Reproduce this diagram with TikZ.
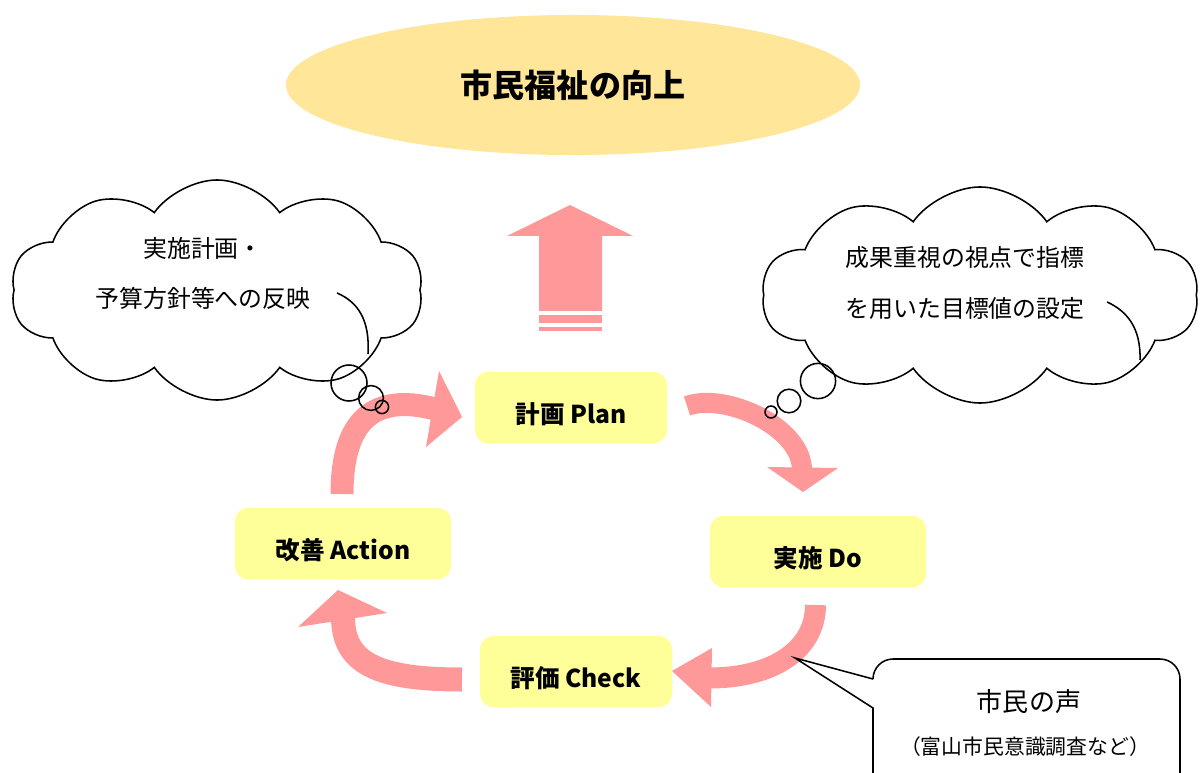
\documentclass[tikz,border=0pt]{standalone}
\usepackage{fontspec}
\setmainfont{Noto Sans CJK JP}
\usetikzlibrary{shapes.geometric,shapes.symbols}
\definecolor{pdcapink}{HTML}{FF9999}
\definecolor{pdcayellow}{HTML}{FFFF99}
\definecolor{goalyellow}{HTML}{FFE699}

\tikzstyle{phase} = [fill=pdcayellow, rounded corners=0.33cm, minimum height=1.775cm, inner sep=0pt, text height=24pt, text depth=1.5pt, font=\bfseries\fontsize{17.5pt}{20pt}\selectfont]
\tikzstyle{thought} = [cloud, draw, line width=1.1pt, cloud puffs=10, cloud puff arc=110]
\tikzstyle{thought line} = [draw, line width=1.1pt]
\tikzstyle{bubble} = [circle, draw, line width=1.1pt, inner sep=0pt]
\tikzstyle{cycle arrow} = [draw=pdcapink, line width=0.55cm]
\tikzstyle{cycle head} = [fill=pdcapink]
\tikzstyle{note} = [align=center, font=\fontsize{17pt}{35.6pt}\selectfont]

\begin{document}
\begin{tikzpicture}[x=0.025cm, y=-0.025cm]
       \clip (0,0) rectangle (1202,773);
       % goal
       \node[ellipse, fill=goalyellow, minimum width=14.35cm, minimum height=3.5cm, font=\bfseries\fontsize{22.8pt}{26pt}\selectfont] (goal) at (573,85) {市民福祉の向上};
       \fill[pdcapink] (570,205) -- (633,236) -- (602,236) -- (602,311) -- (539,311) -- (539,236) -- (507,236) -- cycle;
       \fill[pdcapink] (539,315) rectangle (602,323);
       \fill[pdcapink] (539,327) rectangle (602,331);
       % PDCA boxes
       \foreach \pos/\name/\boxw/\txt in {{(571,407.5)/plan/4.8cm/計画 Plan}, {(818,551.5)/do/5.4cm/実施 Do}, {(576,671.5)/check/4.8cm/評価 Check}, {(343,543.5)/act/5.4cm/改善 Action}} {
           \node[phase, minimum width=\boxw] (\name) at \pos {\txt};
       }
       % cycle arrows
       \coordinate (act-out) at (342,494);   \coordinate (plan-in) at (435,409);
       \coordinate (plan-out) at (687,406);  \coordinate (do-in) at (802,470);
       \coordinate (do-out) at (815.5,605);  \coordinate (check-in) at (709,678);
       \coordinate (check-out) at (462,679.5); \coordinate (act-in) at (343,617);
       \draw[cycle arrow, line width=0.575cm] (act-out) .. controls (342,420) and (374,393) .. (plan-in);
       \fill[cycle head] (439,371) -- (462,417) -- (426,447) -- cycle;
       \draw[cycle arrow, line width=0.5cm] (plan-out) .. controls (725,392) and (802,427) .. (do-in);
       \fill[cycle head] (767,467) -- (803,492) -- (838,468) -- cycle;
       \draw[cycle arrow, line width=0.525cm] (do-out) .. controls (815.5,649) and (774,678) .. (check-in);
       \fill[cycle head] (712,648) -- (672,671) -- (711,707) -- cycle;
       \draw[cycle arrow, line width=0.6cm] (check-out) .. controls (377,679.5) and (343,663) .. (act-in);
       \fill[cycle head] (298,627) -- (338,590) -- (387,613) -- cycle;
       % thoughts
       \node[thought, minimum width=10.3cm, minimum height=5.5cm] (left cloud) at (217,290) {};
       \node[thought, minimum width=10.9cm, minimum height=5.4cm] (right cloud) at (980,295) {};
       \path[thought line] (337,293) .. controls (358,302) and (370,320) .. (368,354);
       \path[thought line] (1107,302) .. controls (1127,311) and (1141,328) .. (1140,360);
       \node[note] (left note) at (203,273) {実施計画・\\予算方針等への反映};
       \node[note] (right note) at (965,283) {成果重視の視点で指標\\を用いた目標値の設定};
       \foreach \pos/\name/\dia in {{(349,383)/lb1/0.9cm}, {(371,398)/lb2/0.62cm}, {(382,407)/lb3/0.33cm}, {(818,381)/rb1/0.88cm}, {(789,401)/rb2/0.59cm}, {(771,412)/rb3/0.3cm}} {
           \node[bubble, minimum size=\dia] (\name) at \pos {};
       }
       % voice callout
       \coordinate (voice tip) at (795,658);
       \draw[line width=1.1pt, rounded corners=0.5cm] (873,679) -- (873,659) -- (1180,659) -- (1180,800);
       \draw[line width=1.1pt] (873,800) -- (873,708) -- (voice tip) -- (873,679);
       \node[font=\fontsize{18.5pt}{22pt}\selectfont] (voice) at (1029,702) {市民の声};
       \node[font=\fontsize{14.8pt}{17pt}\selectfont] (survey) at (1025,747) {（富山市民意識調査など）};
\end{tikzpicture}
\end{document}
